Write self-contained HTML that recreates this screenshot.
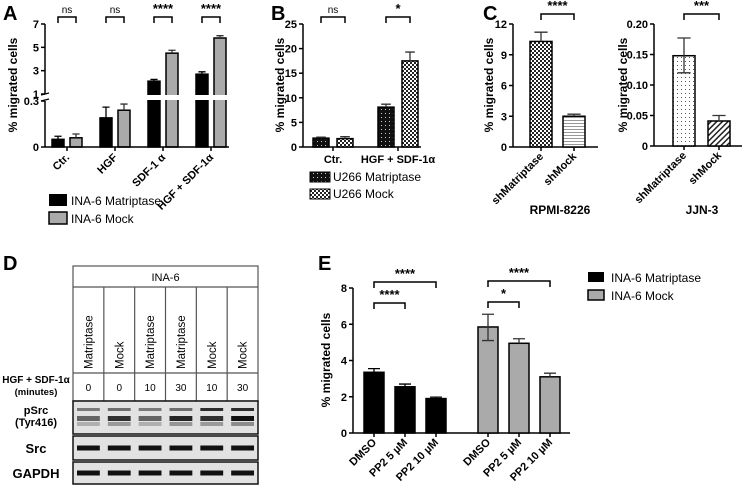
<!DOCTYPE html>
<html><head><meta charset="utf-8"><style>
body{margin:0;background:#fff}
svg{display:block;font-family:"Liberation Sans",Arial,sans-serif}
.t{font-size:11px;font-weight:bold}
.ax{stroke:#000;stroke-width:1.5;fill:none}
.lbl{font-size:20px;font-weight:bold}
</style></head><body>
<svg id="fig" width="745" height="490" viewBox="0 0 745 490">
<defs>
<pattern id="pB1" width="4" height="4" patternUnits="userSpaceOnUse"><rect width="4" height="4" fill="#111"/><rect x="1" y="1" width="1" height="1" fill="#ccc"/></pattern>
<pattern id="pB2" width="4" height="4" patternUnits="userSpaceOnUse"><rect width="4" height="4" fill="#fff"/><rect width="2" height="2" fill="#222"/><rect x="2" y="2" width="2" height="2" fill="#222"/></pattern>
<pattern id="pC2" width="4" height="3" patternUnits="userSpaceOnUse"><rect width="4" height="3" fill="#fff"/><rect width="4" height="1" fill="#999"/></pattern>
<pattern id="pC3" width="4" height="4" patternUnits="userSpaceOnUse"><rect width="4" height="4" fill="#fff"/><rect x="1" y="1" width="1" height="1" fill="#555"/></pattern>
<pattern id="pC4" width="4" height="4" patternUnits="userSpaceOnUse" patternTransform="rotate(45)"><rect width="4" height="4" fill="#fff"/><rect width="1.5" height="4" fill="#222"/></pattern>
</defs>
<g id="root"></g>
</svg>
<script>
// Panel A data
const aCats=["Ctr.","HGF","SDF-1 α","HGF + SDF-1α"];
const aMat=[0.05,0.19,2.1,2.7];
const aMatErr=[0.07,0.26,2.25,2.9];
const aMock=[0.06,0.24,4.5,5.8];
const aMockErr=[0.085,0.28,4.75,6.0];
const aSig=["ns","ns","****","****"];
const aTicks=["0","0.3","1","3","5","7"];
const aTickVals=[0,0.3,1,3,5,7];
// Panel B data
const bCats=["Ctr.","HGF + SDF-1α"];
const bMat=[1.8,8.1];
const bMatErr=[2.0,8.7];
const bMock=[1.7,17.5];
const bMockErr=[2.1,19.3];
const bSig=["ns","*"];
const bTicks=[0,5,10,15,20,25];
// Panel C data
const cCats=["shMatriptase","shMock"];
const cRpmi=[10.3,3.0];
const cRpmiErr=[11.2,3.2];
const cRpmiTicks=[0,3,6,9,12];
const cJjn=[0.148,0.041];
const cJjnErr=[0.177,0.05];
const cJjnTicks=[0,0.05,0.10,0.15,0.20];
// Panel E data
const eCats=["DMSO","PP2 5 µM","PP2 10 µM"];
const eMat=[3.35,2.55,1.9];
const eMatErr=[3.55,2.7,1.98];
const eMock=[5.85,4.95,3.1];
const eMockErr=[6.55,5.2,3.3];
const eTicks=[0,2,4,6,8];
// Panel D data
const dCols=["Matriptase","Mock","Matriptase","Matriptase","Mock","Mock"];
const dMins=["0","0","10","30","10","30"];

const NS="http://www.w3.org/2000/svg";
const root=document.getElementById('root');
function el(tag,attrs,parent,txt){const e=document.createElementNS(NS,tag);for(const k in attrs)e.setAttribute(k,attrs[k]);if(txt!==undefined)e.textContent=txt;(parent||root).appendChild(e);return e;}
function grp(name){const g=el('g',{});return g;}
function bar(g,x,w,v,e,y,fill,name,lowErr){
  const b=el('rect',{x:x,y:y(v),width:w,height:y(0)-y(v),fill:fill,stroke:'#000','stroke-width':1.5},g);
  
  
  const cx=x+w/2,cw=w*0.3;
  const lo=lowErr!==undefined?y(lowErr):y(v);
  el('path',{d:`M${cx},${lo}V${y(e)}M${cx-cw},${y(e)}H${cx+cw}`+(lowErr!==undefined?`M${cx-cw},${lo}H${cx+cw}`:''),stroke:fill==='#000'||fill==='#111'?'#000':'#333','stroke-width':1.3,fill:'none'},g);
}
function yAxis(g,x,y,ticks,labels,yTop){
  el('line',{x1:x,y1:y(0),x2:x,y2:yTop,class:'ax'},g);
  ticks.forEach((t,i)=>{el('line',{x1:x-4,y1:y(t),x2:x,y2:y(t),class:'ax'},g);
    el('text',{x:x-6,y:y(t)+4,'text-anchor':'end',class:'t'},g,labels?labels[i]:String(t));});
}
function bracket(g,x1,x2,yb,txt,fs){
  el('path',{d:`M${x1},${yb+6}V${yb}H${x2}V${yb+6}`,stroke:'#000','stroke-width':1.5,fill:'none'},g);
  el('text',{x:(x1+x2)/2,y:yb-4,'text-anchor':'middle','font-size':txt==='ns'?10:fs||13,'font-weight':txt==='ns'?'normal':'bold'},g,txt);
}
function rotLabel(g,x,y,txt){el('text',{x:x,y:y,'text-anchor':'end',transform:`rotate(-45 ${x} ${y})`,class:'t'},g,txt);}
function ylab(g,x,y,txt){el('text',{x:x,y:y,'text-anchor':'middle',transform:`rotate(-90 ${x} ${y})`,'font-size':12,'font-weight':'bold'},g,txt);}
function letter(x,y,t){const e=el('text',{x:x,y:y,class:'lbl'},root,t);}

// ---------- Panel A
letter(3,20,'A');
{const g=grp('panel-a-chart');
 const yA=v=>v<=0.3?147-v/0.3*46:94-(v-1)*(70/6);
 const step=48,bw=12;
 aCats.forEach((c,i)=>{const xb=52+i*step;
  bar(g,xb,bw,aMat[i],aMatErr[i],yA,'#000','bar-a-matriptase-'+i);
  bar(g,xb+18,bw,aMock[i],aMockErr[i],yA,'#aaa','bar-a-mock-'+i);
  bracket(g,xb+6,xb+24,17,aSig[i]);
  el('line',{x1:xb+15,y1:147,x2:xb+15,y2:151,class:'ax'},g);
  rotLabel(g,xb+18,158,c);});
 el('rect',{x:40,y:95,width:192,height:5,fill:'#fff'},g);
 el('line',{x1:45,y1:147,x2:229,y2:147,class:'ax'},g);
 el('line',{x1:45,y1:101,x2:45,y2:147,class:'ax'},g);
 el('line',{x1:45,y1:24,x2:45,y2:94,class:'ax'},g);
 el('path',{d:'M41,95L49,93M41,101L49,99',stroke:'#000','stroke-width':1.2},g);
 aTickVals.forEach((t,i)=>{el('line',{x1:41,y1:yA(t),x2:45,y2:yA(t),class:'ax'},g);
  el('text',{x:39,y:yA(t)+4,'text-anchor':'end',class:'t'},g,aTicks[i]);});
 ylab(g,17,85,'% migrated cells');
 const lg=grp('legend-a');
 el('rect',{x:49,y:194,width:18,height:12,fill:'#000'},lg);
 el('text',{x:71,y:205,'font-size':12},lg,'INA-6 Matriptase');
 el('rect',{x:49,y:212,width:18,height:12,fill:'#aaa',stroke:'#000','stroke-width':1.5},lg);
 el('text',{x:71,y:223,'font-size':12},lg,'INA-6 Mock');
}
// ---------- Panel B
letter(271,20,'B');
{const g=grp('panel-b-chart');
 const yB=v=>147-v/25*123;
 yAxis(g,303,yB,bTicks,null,24);
 el('line',{x1:303,y1:147,x2:421,y2:147,class:'ax'},g);
 bCats.forEach((c,i)=>{const xb=313+i*65;
  bar(g,xb,16,bMat[i],bMatErr[i],yB,'url(#pB1)','bar-b-matriptase-'+i);
  bar(g,xb+24,16,bMock[i],bMockErr[i],yB,'url(#pB2)','bar-b-mock-'+i);
  bracket(g,xb+8,xb+32,17,bSig[i]);
  el('line',{x1:xb+20,y1:147,x2:xb+20,y2:151,class:'ax'},g);
  el('text',{x:xb+20,y:163,'text-anchor':'middle',class:'t'},g,c);});
 ylab(g,284,85,'% migrated cells');
 const lg=grp('legend-b');
 el('rect',{x:310,y:172,width:20,height:10,fill:'url(#pB1)',stroke:'#000'},lg);
 el('text',{x:333,y:181,'font-size':12},lg,'U266 Matriptase');
 el('rect',{x:310,y:189,width:20,height:10,fill:'url(#pB2)',stroke:'#000'},lg);
 el('text',{x:333,y:198,'font-size':12},lg,'U266 Mock');
}
// ---------- Panel C
letter(483,20,'C');
{const g=grp('panel-c-rpmi');
 const y=v=>147-v/12*123;
 yAxis(g,513,y,cRpmiTicks,null,24);
 el('line',{x1:513,y1:147,x2:598,y2:147,class:'ax'},g);
 const fills=['url(#pB2)','url(#pC2)'];
 cCats.forEach((c,i)=>{const xb=530+i*33;
  bar(g,xb,22,cRpmi[i],cRpmiErr[i],y,fills[i],'bar-rpmi-'+i);
  el('line',{x1:xb+11,y1:147,x2:xb+11,y2:151,class:'ax'},g);
  rotLabel(g,xb+14,157,c);});
 bracket(g,541,574,14,'****');
 ylab(g,493,85,'% migrated cells');
 el('text',{x:560,y:214,'text-anchor':'middle','font-size':12,'font-weight':'bold'},g,'RPMI-8226');
 const g2=grp('panel-c-jjn3');
 const y2=v=>146-v/0.2*122;
 yAxis(g2,654,y2,cJjnTicks,["0","0.05","0.10","0.15","0.20"],24);
 el('line',{x1:654,y1:146,x2:742,y2:146,class:'ax'},g2);
 const f2=['url(#pC3)','url(#pC4)'];
 cCats.forEach((c,i)=>{const xb=673+i*35;
  bar(g2,xb,22,cJjn[i],cJjnErr[i],y2,f2[i],'bar-jjn3-'+i,i===0?0.12:undefined);
  el('line',{x1:xb+11,y1:146,x2:xb+11,y2:150,class:'ax'},g2);
  rotLabel(g2,xb+14,156,c);});
 bracket(g2,684,719,14,'***');
 ylab(g2,627,85,'% migrated cells');
 el('text',{x:702,y:214,'text-anchor':'middle','font-size':12,'font-weight':'bold'},g2,'JJN-3');
}
// ---------- Panel D
letter(3,270,'D');
{const g=grp('panel-d-western-blot');
 const L=73,R=258,cw=(R-L)/6;
 el('rect',{x:L,y:266,width:R-L,height:135,fill:'#fff',stroke:'#555','stroke-width':1.2},g);
 el('line',{x1:L,y1:287,x2:R,y2:287,stroke:'#555','stroke-width':1.2},g);
 el('line',{x1:L,y1:373,x2:R,y2:373,stroke:'#555','stroke-width':1.2},g);
 el('text',{x:(L+R)/2,y:281,'text-anchor':'middle','font-size':11},g,'INA-6');
 dCols.forEach((c,i)=>{const cx=L+cw*i+cw/2;
  if(i>0)el('line',{x1:L+cw*i,y1:287,x2:L+cw*i,y2:401,stroke:'#555','stroke-width':1.2},g);
  el('text',{x:cx+4,y:369,transform:`rotate(-90 ${cx+4} 369)`,'font-size':11.5},g,c);
  el('text',{x:cx,y:391,'text-anchor':'middle','font-size':10},g,dMins[i]);});
 const rows=[[401,33,'pSrc'],[436,24,'Src'],[462,22,'GAPDH']];
 rows.forEach(r=>{el('rect',{x:L,y:r[0],width:R-L,height:r[1],fill:'#e2e2e2',stroke:'#111','stroke-width':1.5},g);
  dCols.forEach((c,i)=>{const x=L+cw*i+4,w=cw-8;
   if(r[2]==='pSrc'){const d=[.55,.6,.55,.6,.95,.95][i],d2=[.6,.85,.6,.9,.85,1][i];
    el('rect',{x:x,y:r[0]+7,width:w,height:3,fill:'#222',opacity:d},g);
    el('rect',{x:x,y:r[0]+15,width:w,height:5,fill:'#111',opacity:d2},g);
    el('rect',{x:x,y:r[0]+21,width:w,height:4,fill:'#555',opacity:d2*0.6},g);}
   else el('rect',{x:x,y:r[0]+r[1]/2-2.5,width:w,height:5,fill:'#111'},g);});});
 const lt=(y,s,v)=>el('text',{x:36,y:y,'text-anchor':'middle','font-size':s,'font-weight':'bold'},g,v);
 lt(383,10,'HGF + SDF-1α');lt(395,9.5,'(minutes)');
 lt(414,11,'pSrc');lt(426,11,'(Tyr416)');
 lt(453,13,'Src');lt(478,13,'GAPDH');
}
// ---------- Panel E
letter(318,270,'E');
{const g=grp('panel-e-chart');
 const y=v=>433-v/8*145;
 yAxis(g,353,y,eTicks,null,288);
 el('line',{x1:353,y1:433,x2:570,y2:433,class:'ax'},g);
 eCats.forEach((c,i)=>{const xb=364+i*31;
  bar(g,xb,20,eMat[i],eMatErr[i],y,'#000','bar-e-matriptase-'+i);
  el('line',{x1:xb+10,y1:433,x2:xb+10,y2:437,class:'ax'},g);
  rotLabel(g,xb+13,443,c);
  const xg=478+i*31;
  bar(g,xg,20,eMock[i],eMockErr[i],y,'#aaa','bar-e-mock-'+i,i===0?5.1:undefined);
  el('line',{x1:xg+10,y1:433,x2:xg+10,y2:437,class:'ax'},g);
  rotLabel(g,xg+13,443,c);});
 bracket(g,374,436,282,'****');
 bracket(g,374,405,303,'****');
 bracket(g,488,550,281,'****');
 bracket(g,488,519,302,'*');
 ylab(g,330,360,'% migrated cells');
 const lg=grp('legend-e');
 el('rect',{x:588,y:272,width:16,height:10,fill:'#000'},lg);
 el('text',{x:611,y:282,'font-size':12},lg,'INA-6 Matriptase');
 el('rect',{x:588,y:290,width:16,height:10,fill:'#aaa',stroke:'#000','stroke-width':1.5},lg);
 el('text',{x:611,y:300,'font-size':12},lg,'INA-6 Mock');
}
</script>
</body></html>
